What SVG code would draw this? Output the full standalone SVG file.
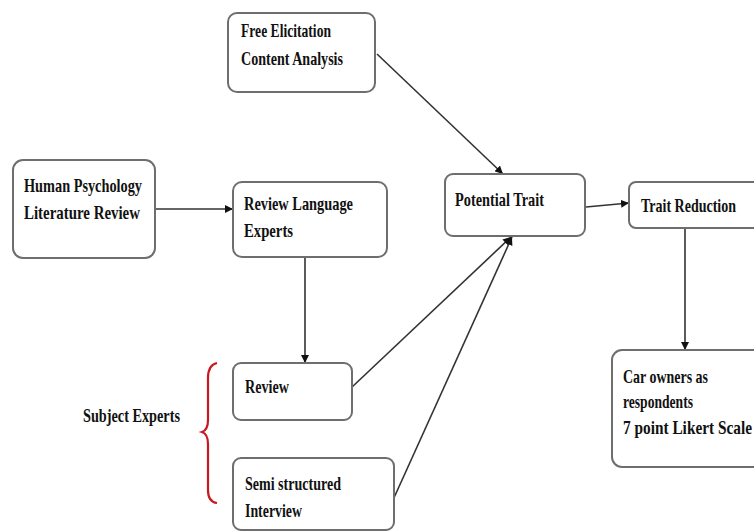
<svg xmlns="http://www.w3.org/2000/svg" width="754" height="532" viewBox="0 0 754 532">
<style>
.box{fill:#fff;stroke:#6e6e6e;stroke-width:2}
.t{font-family:"Liberation Serif","Times New Roman",serif;font-weight:bold;font-size:19px;fill:#111}
.c{fill:none;stroke:#333;stroke-width:1.6}
</style>
<defs>
<marker id="ah" viewBox="0 0 10 10" refX="10" refY="5" markerWidth="8" markerHeight="8" markerUnits="userSpaceOnUse" orient="auto">
<path d="M0,0 L10,5 L0,10 z" fill="#111"/>
</marker>
</defs>
<rect width="754" height="532" fill="#fff"/>
<g id="connectors">
<line class="c" x1="155" y1="209" x2="233" y2="209" marker-end="url(#ah)"/>
<line class="c" x1="305" y1="257" x2="305" y2="363" marker-end="url(#ah)"/>
<line class="c" x1="377" y1="54" x2="503" y2="174" marker-end="url(#ah)"/>
<line class="c" x1="351" y1="388" x2="511" y2="237" marker-end="url(#ah)"/>
<line class="c" x1="393" y1="500" x2="512" y2="237" marker-end="url(#ah)"/>
<line class="c" x1="586" y1="207" x2="629" y2="203" marker-end="url(#ah)"/>
<line class="c" x1="685" y1="228" x2="685" y2="350" marker-end="url(#ah)"/>
</g>
<g id="free-elicitation">
<rect class="box" x="228" y="13" width="147" height="79" rx="9"/>
<text class="t" x="241" y="37" textLength="90" lengthAdjust="spacingAndGlyphs">Free Elicitation</text>
<text class="t" x="241" y="65" textLength="102" lengthAdjust="spacingAndGlyphs">Content Analysis</text>
</g>
<g id="human-psychology">
<rect class="box" x="13" y="160" width="142" height="98" rx="10"/>
<text class="t" x="24" y="192" textLength="118" lengthAdjust="spacingAndGlyphs">Human Psychology</text>
<text class="t" x="24" y="219" textLength="116" lengthAdjust="spacingAndGlyphs">Literature Review</text>
</g>
<g id="review-language">
<rect class="box" x="233" y="182" width="154" height="75" rx="9"/>
<text class="t" x="244" y="210" textLength="109" lengthAdjust="spacingAndGlyphs">Review Language</text>
<text class="t" x="244" y="237" textLength="49" lengthAdjust="spacingAndGlyphs">Experts</text>
</g>
<g id="potential-trait">
<rect class="box" x="445" y="174" width="140" height="62" rx="8"/>
<text class="t" x="455" y="206" textLength="89" lengthAdjust="spacingAndGlyphs">Potential Trait</text>
</g>
<g id="trait-reduction">
<rect class="box" x="629" y="182" width="140" height="46" rx="7"/>
<text class="t" x="641" y="212" textLength="95" lengthAdjust="spacingAndGlyphs">Trait Reduction</text>
</g>
<g id="review">
<rect class="box" x="233" y="363" width="119" height="57" rx="8"/>
<text class="t" x="245" y="393" textLength="44" lengthAdjust="spacingAndGlyphs">Review</text>
</g>
<g id="semi-structured">
<rect class="box" x="233" y="458" width="161" height="72" rx="8"/>
<text class="t" x="245" y="490" textLength="96" lengthAdjust="spacingAndGlyphs">Semi structured</text>
<text class="t" x="245" y="517" textLength="57" lengthAdjust="spacingAndGlyphs">Interview</text>
</g>
<g id="car-owners">
<rect class="box" x="612" y="350" width="160" height="117" rx="10"/>
<text class="t" x="623" y="383" textLength="85" lengthAdjust="spacingAndGlyphs">Car owners as</text>
<text class="t" x="623" y="408" textLength="70" lengthAdjust="spacingAndGlyphs">respondents</text>
<text class="t" x="623" y="434" textLength="129" lengthAdjust="spacingAndGlyphs">7 point Likert Scale</text>
</g>
<g id="subject-experts">
<path d="M217,363 Q208,365 208,378 L208,420 Q208,430 202,432 Q208,434 208,444 L208,490 Q208,502 217,503" fill="none" stroke="#c8191e" stroke-width="2.2"/>
<text class="t" x="83" y="422" textLength="97" lengthAdjust="spacingAndGlyphs">Subject Experts</text>
</g>
</svg>
